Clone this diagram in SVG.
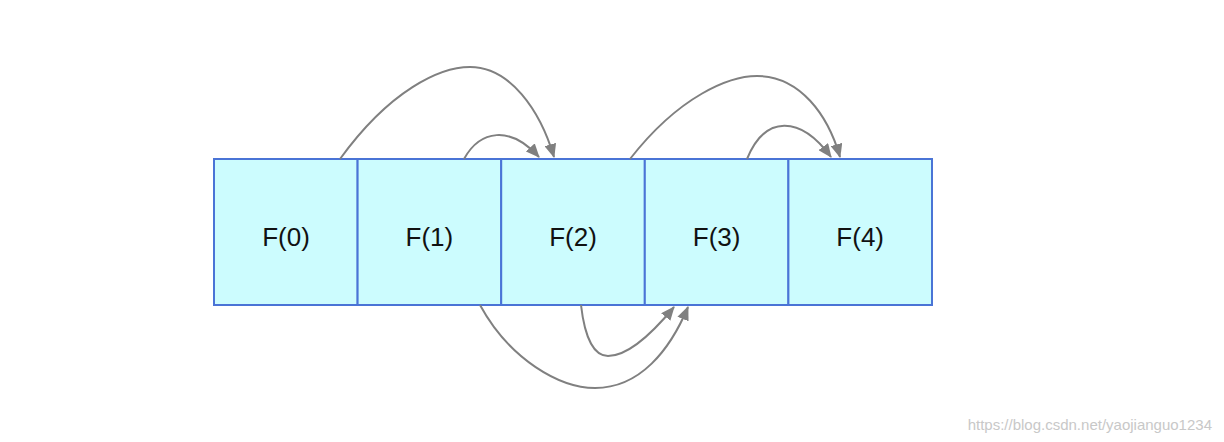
<svg xmlns="http://www.w3.org/2000/svg" width="1224" height="442" viewBox="0 0 1224 442">
<style>
.box{fill:#ccfcfe;stroke:#4a74d6;stroke-width:2}
.lbl{font-family:"Liberation Sans",Arial,sans-serif;font-size:26px;fill:#111;text-anchor:middle;dominant-baseline:central}
.e{fill:none;stroke:#808080;stroke-width:2}
</style>
<defs><marker id="ah" markerWidth="14" markerHeight="12" refX="13" refY="6" orient="auto" markerUnits="userSpaceOnUse"><path d="M0,0 L14,6 L0,12 Z" fill="#808080"/></marker></defs>
<rect width="1224" height="442" fill="#fff"/>
<g id="n0"><rect class="box" x="214" y="159" width="143.6" height="146"/><text class="lbl" x="286" y="237">F(0)</text></g>
<g id="n1"><rect class="box" x="357.6" y="159" width="143.6" height="146"/><text class="lbl" x="429.4" y="237">F(1)</text></g>
<g id="n2"><rect class="box" x="501.2" y="159" width="143.6" height="146"/><text class="lbl" x="573" y="237">F(2)</text></g>
<g id="n3"><rect class="box" x="644.8" y="159" width="143.6" height="146"/><text class="lbl" x="716.6" y="237">F(3)</text></g>
<g id="n4"><rect class="box" x="788.4" y="159" width="143.6" height="146"/><text class="lbl" x="860.2" y="237">F(4)</text></g>
<g id="edges">
<path class="e" marker-end="url(#ah)" d="M340,159 C390,90 440,67 470,67 C510,67 540,110 554,157"/>
<path class="e" marker-end="url(#ah)" d="M464,159 C480,130 510,125 539,157"/>
<path class="e" marker-end="url(#ah)" d="M630,159 C680,95 730,76 757,76 C800,76 828,115 840,157"/>
<path class="e" marker-end="url(#ah)" d="M747,159 C765,115 800,115 831,157"/>
<path class="e" marker-end="url(#ah)" d="M480,305 C510,360 560,388 595,388 C640,388 670,350 688,307"/>
<path class="e" marker-end="url(#ah)" d="M581,305 C585,340 595,356 608,356 C630,356 655,330 674,307"/>
</g>
<text x="1212" y="430" font-family="Liberation Sans,Arial,sans-serif" font-size="15" fill="#c8c8c8" text-anchor="end">https://blog.csdn.net/yaojianguo1234</text>
</svg>
